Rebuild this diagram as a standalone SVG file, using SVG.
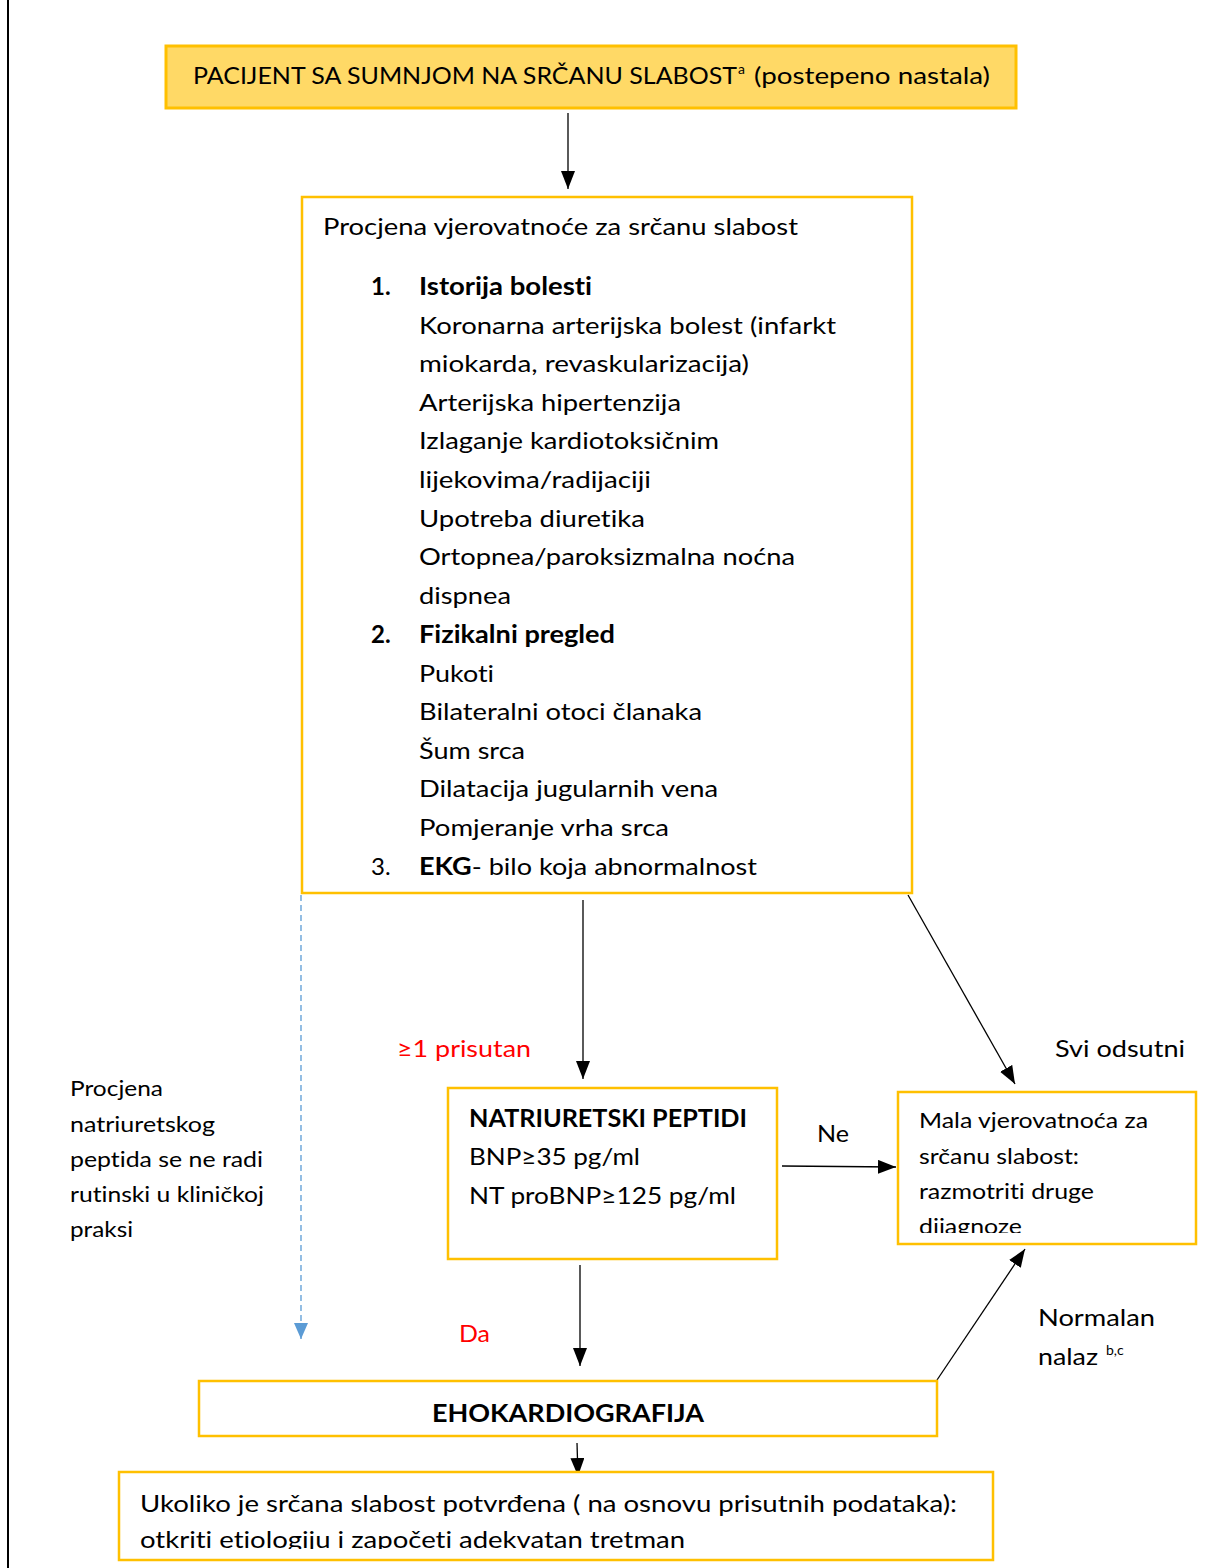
<svg xmlns="http://www.w3.org/2000/svg" width="1225" height="1568" viewBox="0 0 1225 1568">
<style>
  .box { fill: #ffffff; stroke: #FFC000; stroke-width: 2.5; }
  .boxf { fill: #FFD966; stroke: #FFC000; stroke-width: 3; }
  text { font-family: Lato, "Open Sans", "Liberation Sans", sans-serif; fill: #000; font-variant-ligatures: none; }
  .t24 { font-size: 24px; }
  .t22 { font-size: 22px; }
  .t21 { font-size: 21px; }
  .b { font-weight: bold; }
  .red { fill: #FF0000; }
  .conn { stroke: #000; stroke-width: 1.3; fill: none; }
  .dash { stroke: #5B9BD5; stroke-width: 1.3; stroke-dasharray: 6 4; fill: none; }
</style>
<defs>
  <marker id="ah" viewBox="0 0 18 14" refX="18" refY="7" markerWidth="18" markerHeight="14" markerUnits="userSpaceOnUse" orient="auto">
    <path d="M0,0 L18,7 L0,14 Z" fill="#000"/>
  </marker>
  <marker id="ahb" viewBox="0 0 16 14" refX="16" refY="7" markerWidth="16" markerHeight="14" markerUnits="userSpaceOnUse" orient="auto">
    <path d="M0,0 L16,7 L0,14 Z" fill="#5B9BD5"/>
  </marker>
  <clipPath id="clipMala"><rect x="898" y="1092" width="298" height="141"/></clipPath>
  <clipPath id="clipBottom"><rect x="119" y="1472" width="874" height="77"/></clipPath>
</defs>
<rect x="0" y="0" width="1225" height="1568" fill="#ffffff"/>
<line x1="8" y1="0" x2="8" y2="1568" stroke="#000" stroke-width="2"/>

<g id="connectors">
  <line class="conn" x1="568" y1="113" x2="568" y2="189" marker-end="url(#ah)"/>
  <line class="conn" x1="583" y1="900" x2="583" y2="1079" marker-end="url(#ah)"/>
  <line class="conn" x1="908" y1="895" x2="1015" y2="1084" marker-end="url(#ah)"/>
  <line class="dash" x1="301" y1="895" x2="301" y2="1339" marker-end="url(#ahb)"/>
  <line class="conn" x1="782" y1="1166" x2="896" y2="1167" marker-end="url(#ah)"/>
  <line class="conn" x1="937" y1="1380" x2="1025" y2="1249" marker-end="url(#ah)"/>
  <line class="conn" x1="580" y1="1265" x2="580" y2="1366" marker-end="url(#ah)"/>
  <line class="conn" x1="577" y1="1443" x2="578" y2="1476" marker-end="url(#ah)"/>
</g>

<g id="labels">
  <text class="t24 red" x="397" y="1057" textLength="134" lengthAdjust="spacingAndGlyphs">≥1 prisutan</text>
  <text class="t24" x="1055" y="1057" textLength="130" lengthAdjust="spacingAndGlyphs">Svi odsutni</text>
  <text class="t24" x="817" y="1142" textLength="32" lengthAdjust="spacingAndGlyphs">Ne</text>
  <text class="t24 red" x="459" y="1342" textLength="31" lengthAdjust="spacingAndGlyphs">Da</text>
  <text class="t24" x="1038" y="1326" textLength="117" lengthAdjust="spacingAndGlyphs">Normalan</text>
  <text class="t24" x="1038" y="1365" textLength="60" lengthAdjust="spacingAndGlyphs">nalaz</text>
  <text x="1106" y="1355" style="font-size:14px">b,c</text>
  <g id="note">
    <text class="t22" x="70" y="1096" textLength="93" lengthAdjust="spacingAndGlyphs">Procjena</text>
    <text class="t22" x="70" y="1132" textLength="145" lengthAdjust="spacingAndGlyphs">natriuretskog</text>
    <text class="t22" x="70" y="1167" textLength="193" lengthAdjust="spacingAndGlyphs">peptida se ne radi</text>
    <text class="t22" x="70" y="1202" textLength="194" lengthAdjust="spacingAndGlyphs">rutinski u kliničkoj</text>
    <text class="t22" x="70" y="1237" textLength="63" lengthAdjust="spacingAndGlyphs">praksi</text>
  </g>
</g>

<g id="node-patient">
  <rect class="boxf" x="166" y="46" width="850" height="62"/>
  <text class="t24" x="193" y="84" textLength="544" lengthAdjust="spacingAndGlyphs">PACIJENT SA SUMNJOM NA SRČANU SLABOST</text>
  <text x="738" y="74" style="font-size:14px">a</text>
  <text class="t24" x="754" y="84" textLength="236" lengthAdjust="spacingAndGlyphs">(postepeno nastala)</text>
</g>

<g id="node-assessment">
  <rect class="box" x="302" y="197" width="610" height="696"/>
  <text class="t24" x="323" y="235" textLength="475" lengthAdjust="spacingAndGlyphs">Procjena vjerovatnoće za srčanu slabost</text>
  <text class="t24 b" x="371" y="295">1.</text>
  <text class="t24 b" x="419" y="295" textLength="173" lengthAdjust="spacingAndGlyphs">Istorija bolesti</text>
  <text class="t24" x="419" y="334" textLength="417" lengthAdjust="spacingAndGlyphs">Koronarna arterijska bolest (infarkt</text>
  <text class="t24" x="419" y="372" textLength="330" lengthAdjust="spacingAndGlyphs">miokarda, revaskularizacija)</text>
  <text class="t24" x="419" y="411" textLength="262" lengthAdjust="spacingAndGlyphs">Arterijska hipertenzija</text>
  <text class="t24" x="419" y="449" textLength="300" lengthAdjust="spacingAndGlyphs">Izlaganje kardiotoksičnim</text>
  <text class="t24" x="419" y="488" textLength="232" lengthAdjust="spacingAndGlyphs">lijekovima/radijaciji</text>
  <text class="t24" x="419" y="527" textLength="226" lengthAdjust="spacingAndGlyphs">Upotreba diuretika</text>
  <text class="t24" x="419" y="565" textLength="376" lengthAdjust="spacingAndGlyphs">Ortopnea/paroksizmalna noćna</text>
  <text class="t24" x="419" y="604" textLength="92" lengthAdjust="spacingAndGlyphs">dispnea</text>
  <text class="t24 b" x="371" y="643">2.</text>
  <text class="t24 b" x="419" y="643" textLength="196" lengthAdjust="spacingAndGlyphs">Fizikalni pregled</text>
  <text class="t24" x="419" y="682" textLength="75" lengthAdjust="spacingAndGlyphs">Pukoti</text>
  <text class="t24" x="419" y="720" textLength="283" lengthAdjust="spacingAndGlyphs">Bilateralni otoci članaka</text>
  <text class="t24" x="419" y="759" textLength="106" lengthAdjust="spacingAndGlyphs">Šum srca</text>
  <text class="t24" x="419" y="797" textLength="299" lengthAdjust="spacingAndGlyphs">Dilatacija jugularnih vena</text>
  <text class="t24" x="419" y="836" textLength="250" lengthAdjust="spacingAndGlyphs">Pomjeranje vrha srca</text>
  <text class="t24" x="371" y="875">3.</text>
  <text class="t24" x="419" y="875" textLength="338" lengthAdjust="spacingAndGlyphs"><tspan class="b">EKG</tspan>- bilo koja abnormalnost</text>
</g>

<g id="node-peptides">
  <rect class="box" x="448" y="1088" width="329" height="171"/>
  <text class="t24 b" x="469" y="1127" textLength="278" lengthAdjust="spacingAndGlyphs">NATRIURETSKI PEPTIDI</text>
  <text class="t24" x="469" y="1165" textLength="171" lengthAdjust="spacingAndGlyphs">BNP≥35 pg/ml</text>
  <text class="t24" x="469" y="1204" textLength="267" lengthAdjust="spacingAndGlyphs">NT proBNP≥125 pg/ml</text>
</g>

<g id="node-low">
  <rect class="box" x="898" y="1092" width="298" height="152"/>
  <g clip-path="url(#clipMala)">
    <text class="t21" x="919" y="1128" textLength="229" lengthAdjust="spacingAndGlyphs">Mala vjerovatnoća za</text>
    <text class="t21" x="919" y="1164" textLength="160" lengthAdjust="spacingAndGlyphs">srčanu slabost:</text>
    <text class="t21" x="919" y="1199" textLength="175" lengthAdjust="spacingAndGlyphs">razmotriti druge</text>
    <text class="t21" x="919" y="1234" textLength="103" lengthAdjust="spacingAndGlyphs">dijagnoze</text>
  </g>
</g>

<g id="node-echo">
  <rect class="box" x="199" y="1381" width="738" height="55"/>
  <text class="t24 b" x="432" y="1422" textLength="272" lengthAdjust="spacingAndGlyphs">EHOKARDIOGRAFIJA</text>
</g>

<g id="node-confirmed">
  <rect class="box" x="119" y="1472" width="874" height="88"/>
  <g clip-path="url(#clipBottom)">
    <text class="t24" x="140" y="1512" textLength="817" lengthAdjust="spacingAndGlyphs">Ukoliko je srčana slabost potvrđena ( na osnovu prisutnih podataka):</text>
    <text class="t24" x="140" y="1548" textLength="545" lengthAdjust="spacingAndGlyphs">otkriti etiologiju i započeti adekvatan tretman</text>
  </g>
</g>
</svg>
